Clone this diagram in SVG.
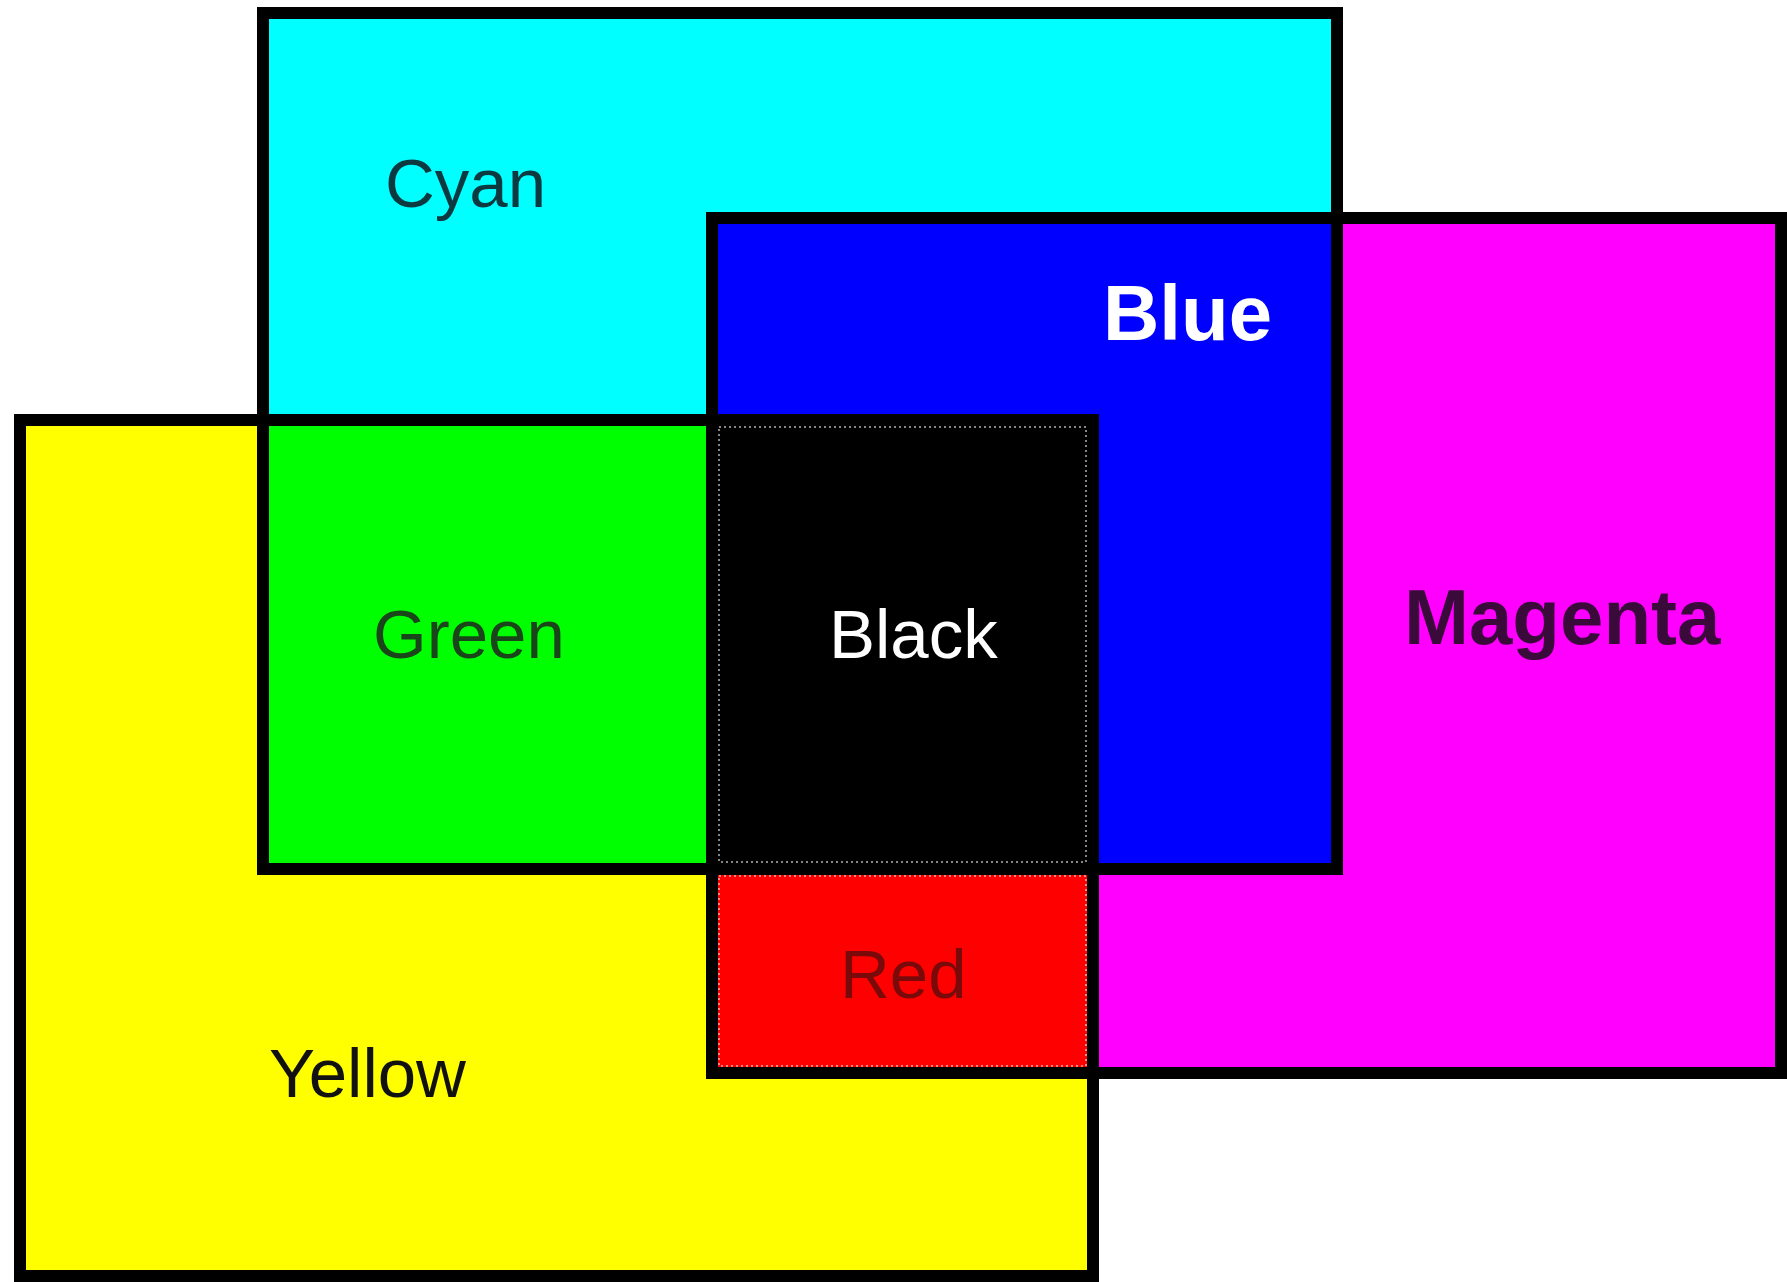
<svg xmlns="http://www.w3.org/2000/svg" width="1787" height="1282" viewBox="0 0 1787 1282">
<style>
.edge{fill:none;stroke:#000;stroke-width:12}
.lbl{font-family:"Liberation Sans",Arial,sans-serif;font-size:69px}
.bold{font-weight:bold;font-size:78px}
.dot{fill:none;stroke:#fff;stroke-width:1.5;stroke-dasharray:2 3;opacity:0.7}
</style>
<rect width="1787" height="1282" fill="#fff"/>
<g id="cyan">
<rect x="263" y="13" width="1074" height="856" fill="#00ffff"/>
</g>
<g id="magenta">
<rect x="712" y="218" width="1069" height="855" fill="#ff00ff"/>
</g>
<g id="yellow">
<rect x="20" y="420" width="1073" height="856" fill="#ffff00"/>
</g>
<g id="green">
<rect x="263" y="420" width="449" height="449" fill="#00ff00"/>
</g>
<g id="blue">
<rect x="712" y="218" width="625" height="651" fill="#0000ff"/>
</g>
<g id="red">
<rect x="712" y="869" width="381" height="204" fill="#ff0000"/>
</g>
<g id="black">
<rect x="712" y="420" width="381" height="449" fill="#000"/>
</g>
<g id="edges">
<rect class="edge" x="263" y="13" width="1074" height="856"/>
<rect class="edge" x="712" y="218" width="1069" height="855"/>
<rect class="edge" x="20" y="420" width="1073" height="856"/>
<rect class="dot" x="719" y="427" width="367" height="435"/>
<rect class="dot" x="719" y="876" width="367" height="190"/>
</g>
<g id="labels">
<text class="lbl" x="385" y="207" fill="#0d3a40">Cyan</text>
<text class="lbl bold" x="1103" y="340" fill="#fff">Blue</text>
<text class="lbl" x="373" y="658" fill="#1a451a">Green</text>
<text class="lbl" x="829" y="658" fill="#fff">Black</text>
<text class="lbl bold" x="1404" y="644" fill="#3a0a3a">Magenta</text>
<text class="lbl" x="840" y="998" fill="#7a0a0a">Red</text>
<text class="lbl" x="269" y="1097" fill="#111">Yellow</text>
</g>
</svg>
